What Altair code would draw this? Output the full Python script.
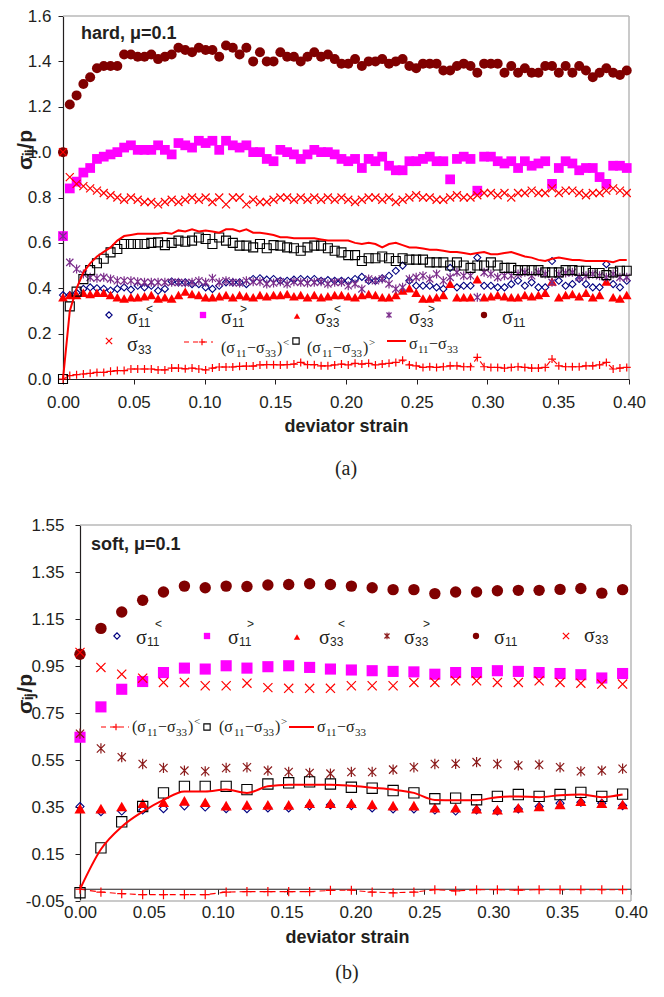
import altair as alt
import pandas as pd

# ---------------- panel (a): hard, mu = 0.1 ----------------
A_STRAIN = [0.0, 0.0048, 0.0096, 0.0144, 0.0192, 0.024, 0.0288, 0.0336, 0.0384, 0.0432,
            0.048, 0.0528, 0.0576, 0.0624, 0.0672, 0.072, 0.0768, 0.0816, 0.0864, 0.0912,
            0.096, 0.1008, 0.1056, 0.1104, 0.1152, 0.12, 0.1248, 0.1296, 0.1344, 0.1392,
            0.144, 0.1488, 0.1536, 0.1584, 0.1632, 0.168, 0.1728, 0.1776, 0.1824, 0.1872,
            0.192, 0.1968, 0.2016, 0.2064, 0.2112, 0.216, 0.2208, 0.2256, 0.2304, 0.2352,
            0.24, 0.2448, 0.2496, 0.2544, 0.2592, 0.264, 0.2688, 0.2736, 0.2784, 0.2832,
            0.288, 0.2928, 0.2976, 0.3024, 0.3072, 0.312, 0.3168, 0.3216, 0.3264, 0.3312,
            0.336, 0.3408, 0.3456, 0.3504, 0.3552, 0.36, 0.3648, 0.3696, 0.3744, 0.3792,
            0.384, 0.3888, 0.3936, 0.3984]

A_S11_LT = [0.37, 0.37, 0.38, 0.397, 0.404, 0.40, 0.397, 0.39, 0.397, 0.404, 0.394, 0.411,
            0.404, 0.411, 0.389, 0.397, 0.43, 0.426, 0.426, 0.418, 0.418, 0.404, 0.397, 0.411,
            0.426, 0.426, 0.426, 0.418, 0.441, 0.444, 0.438, 0.441, 0.433, 0.433, 0.438, 0.441,
            0.438, 0.441, 0.433, 0.436, 0.433,
            0.433, 0.433, 0.441, 0.45, 0.433, 0.433, 0.444, 0.455, 0.477, 0.50, 0.433, 0.411,
            0.411, 0.411, 0.404, 0.397, 0.49, 0.404, 0.411, 0.411, 0.535, 0.411, 0.411, 0.404,
            0.404, 0.418, 0.433, 0.411, 0.426, 0.404, 0.404, 0.52, 0.433, 0.411, 0.418, 0.441,
            0.418, 0.404, 0.404, 0.506, 0.418, 0.404, 0.433]

A_S11_GT = [0.63, 0.84, 0.87, 0.91, 0.93, 0.97, 0.98, 0.99, 1.00, 1.02, 1.03, 1.01, 1.01,
            1.01, 1.03, 1.01, 0.99, 1.04, 1.03, 1.02, 1.05, 1.04, 1.05, 1.01, 1.05, 1.03,
            1.02, 1.03, 1.00, 1.00, 0.97, 0.96, 1.01, 1.00, 0.99, 0.97, 0.99, 1.01,
            1.00, 1.00, 0.99, 0.97, 0.96, 0.97, 0.93, 0.97, 0.96, 0.98, 0.94, 0.92, 0.92,
            0.96, 0.96, 0.97, 0.98, 0.96, 0.96, 0.88, 0.97, 0.98, 0.97, 0.83, 0.98, 0.98,
            0.96, 0.95, 0.96, 0.93, 0.96, 0.94, 0.95, 0.96, 0.86, 0.93, 0.96, 0.95, 0.92,
            0.93, 0.93, 0.89, 0.86, 0.94, 0.94, 0.93]

A_S33_LT = [0.36, 0.37, 0.37, 0.38, 0.375, 0.38, 0.38, 0.37, 0.36, 0.355, 0.36, 0.36, 0.365,
            0.37, 0.355, 0.36, 0.355, 0.37, 0.385, 0.375, 0.37, 0.36, 0.36, 0.365, 0.37, 0.36,
            0.37, 0.365, 0.36, 0.37, 0.365, 0.37, 0.37, 0.375, 0.365, 0.37, 0.36, 0.37, 0.36,
            0.365, 0.37,
            0.37, 0.365, 0.36, 0.37, 0.375, 0.37, 0.36, 0.36, 0.37, 0.39, 0.40, 0.38, 0.355,
            0.355, 0.36, 0.37, 0.42, 0.36, 0.36, 0.36, 0.44, 0.36, 0.365, 0.37, 0.365, 0.36,
            0.36, 0.37, 0.365, 0.37, 0.38, 0.43, 0.36, 0.37, 0.375, 0.365, 0.38, 0.36, 0.37,
            0.43, 0.36, 0.355, 0.37]

A_S33_GT = [0.63, 0.514, 0.485, 0.463, 0.448, 0.444, 0.448, 0.441, 0.433, 0.433, 0.433, 0.429,
            0.426, 0.426, 0.426, 0.426, 0.426, 0.426, 0.423, 0.426, 0.433, 0.426, 0.444, 0.426,
            0.433, 0.426, 0.423, 0.433, 0.429, 0.429, 0.419, 0.423, 0.429, 0.419, 0.429, 0.426,
            0.423, 0.426, 0.429, 0.419, 0.426,
            0.426, 0.411, 0.419, 0.397, 0.441, 0.433, 0.441, 0.419, 0.397, 0.404, 0.441, 0.448,
            0.455, 0.441, 0.463, 0.433, 0.448, 0.47, 0.455, 0.455, 0.36, 0.47, 0.463, 0.448,
            0.455, 0.455, 0.463, 0.47, 0.455, 0.47, 0.463, 0.426, 0.463, 0.467, 0.47, 0.448,
            0.455, 0.463, 0.455, 0.448, 0.463, 0.448, 0.448]

A_S11 = [1.00, 1.21, 1.25, 1.30, 1.33, 1.37, 1.38, 1.38, 1.38, 1.43, 1.43, 1.42, 1.42, 1.43,
         1.41, 1.42, 1.43, 1.46, 1.45, 1.44, 1.46, 1.45, 1.45, 1.42, 1.47, 1.46, 1.43, 1.46,
         1.40, 1.44, 1.40, 1.40, 1.44, 1.42, 1.42, 1.40, 1.42, 1.44,
         1.42, 1.43, 1.41, 1.39, 1.39, 1.41, 1.38, 1.40, 1.40, 1.41, 1.39, 1.40, 1.41, 1.38,
         1.37, 1.39, 1.39, 1.39, 1.36, 1.36, 1.38, 1.39, 1.38, 1.35, 1.39, 1.39, 1.39, 1.35,
         1.38, 1.35, 1.37, 1.35, 1.35, 1.38, 1.38, 1.35, 1.38, 1.35, 1.38, 1.36, 1.33, 1.35,
         1.37, 1.35, 1.34, 1.36]

A_S33 = [1.00, 0.89, 0.86, 0.85, 0.84, 0.83, 0.82, 0.81, 0.80, 0.79, 0.80, 0.79, 0.78, 0.78,
         0.77, 0.78, 0.79, 0.78, 0.79, 0.80, 0.79, 0.80, 0.78, 0.80, 0.77, 0.80, 0.80, 0.77,
         0.79, 0.78, 0.78, 0.79, 0.80, 0.80, 0.79, 0.80, 0.79, 0.80,
         0.79, 0.80, 0.79, 0.80, 0.79, 0.78, 0.79, 0.80, 0.80, 0.79, 0.80, 0.78, 0.79, 0.80,
         0.81, 0.80, 0.80, 0.79, 0.79, 0.80, 0.81, 0.80, 0.80, 0.81, 0.82, 0.82, 0.81, 0.82,
         0.80, 0.82, 0.82, 0.83, 0.82, 0.82, 0.84, 0.82, 0.83, 0.83, 0.82, 0.81, 0.82, 0.82,
         0.83, 0.84, 0.83, 0.82]

A_D_LT = [0.0, 0.015, 0.019, 0.022, 0.025, 0.029, 0.029, 0.034, 0.037, 0.037,
          0.044, 0.044, 0.044, 0.044, 0.040, 0.040, 0.048, 0.048, 0.045, 0.048,
          0.044, 0.040, 0.048, 0.053, 0.053, 0.053, 0.056, 0.057, 0.057, 0.062,
          0.063, 0.063, 0.062, 0.063, 0.066, 0.073, 0.063, 0.063,
          0.058, 0.058, 0.062, 0.066, 0.062, 0.069, 0.066, 0.069, 0.062, 0.066, 0.069, 0.073,
          0.083, 0.062, 0.058, 0.051, 0.054, 0.051, 0.054, 0.058, 0.058, 0.054,
          0.054, 0.095, 0.054, 0.051, 0.051, 0.048, 0.051, 0.054, 0.051, 0.048,
          0.048, 0.051, 0.088, 0.058, 0.054, 0.054, 0.054, 0.058, 0.058, 0.062,
          0.073, 0.044, 0.048, 0.051]

A_D_GT = [0.00, 0.32, 0.385, 0.44, 0.48, 0.51, 0.53, 0.558, 0.573, 0.595, 0.595, 0.595, 0.595,
          0.60, 0.602, 0.59, 0.60, 0.61, 0.605, 0.61, 0.624, 0.617, 0.595, 0.624, 0.61, 0.60,
          0.588, 0.588, 0.58, 0.595, 0.576, 0.59, 0.588, 0.58, 0.576, 0.565, 0.58, 0.588,
          0.588, 0.576, 0.565,
          0.558, 0.546, 0.546, 0.52, 0.532, 0.532, 0.54, 0.532, 0.52, 0.532, 0.526, 0.526,
          0.526, 0.514, 0.514, 0.514, 0.50, 0.514, 0.50, 0.49, 0.50, 0.50, 0.514, 0.50, 0.49,
          0.49, 0.48, 0.48, 0.48, 0.48, 0.47, 0.47, 0.47, 0.48, 0.48, 0.477, 0.477, 0.467,
          0.467, 0.458, 0.47, 0.477, 0.477]

A_D = [0.0, 0.30, 0.40, 0.47, 0.51, 0.54, 0.56, 0.58, 0.61, 0.63, 0.635, 0.64, 0.64, 0.64,
       0.64, 0.645, 0.64, 0.655, 0.65, 0.66, 0.65, 0.655, 0.65, 0.645, 0.66, 0.66, 0.65, 0.66,
       0.645, 0.645, 0.64, 0.635, 0.625, 0.625, 0.62, 0.62, 0.62, 0.62, 0.615, 0.61, 0.61,
       0.61, 0.61, 0.60, 0.595, 0.60, 0.595, 0.58, 0.595, 0.60, 0.59, 0.58, 0.58, 0.575,
       0.57, 0.57, 0.565, 0.56, 0.56, 0.555, 0.55, 0.555, 0.56, 0.55, 0.55, 0.555, 0.56,
       0.55, 0.54, 0.535, 0.525, 0.52, 0.53, 0.535, 0.53, 0.525, 0.525, 0.52, 0.52, 0.52,
       0.52, 0.515, 0.525, 0.525]

A_XTICKS = [0.0, 0.05, 0.1, 0.15, 0.2, 0.25, 0.3, 0.35, 0.4]
A_YTICKS = [0.0, 0.2, 0.4, 0.6, 0.8, 1.0, 1.2, 1.4, 1.6]

# ---------------- panel (b): soft, mu = 0.1 ----------------
B_STRAIN = [0.0, 0.0152, 0.0303, 0.0455, 0.0606, 0.0758, 0.0909, 0.1061, 0.1212, 0.1364,
            0.1515, 0.1667, 0.1818, 0.1970, 0.2121, 0.2273, 0.2424, 0.2576, 0.2727, 0.2879,
            0.3030, 0.3182, 0.3333, 0.3485, 0.3636, 0.3788, 0.3939]
B_S11_LT = [0.352, 0.33, 0.333, 0.337, 0.343, 0.355, 0.35, 0.343, 0.343, 0.346, 0.346, 0.355,
            0.359, 0.356, 0.346, 0.342, 0.342, 0.337, 0.333, 0.337, 0.333, 0.342, 0.352, 0.366,
            0.37, 0.366, 0.356]
B_S11_GT = [0.647, 0.776, 0.851, 0.884, 0.922, 0.941, 0.937, 0.951, 0.941, 0.947, 0.951, 0.944,
            0.937, 0.933, 0.93, 0.927, 0.925, 0.915, 0.922, 0.922, 0.93, 0.927, 0.922, 0.918,
            0.913, 0.899, 0.918]
B_S33_LT = [0.343, 0.343, 0.352, 0.366, 0.37, 0.376, 0.37, 0.356, 0.359, 0.359, 0.359, 0.366,
            0.366, 0.366, 0.361, 0.356, 0.356, 0.347, 0.347, 0.343, 0.339, 0.347, 0.352, 0.361,
            0.375, 0.366, 0.361]
B_S33_GT = [0.662, 0.599, 0.562, 0.533, 0.516, 0.505, 0.502, 0.516, 0.519, 0.505, 0.499, 0.495,
            0.492, 0.499, 0.499, 0.509, 0.519, 0.533, 0.534, 0.541, 0.533, 0.527, 0.53, 0.519,
            0.502, 0.505, 0.513]
B_S11 = [1.00, 1.11, 1.18, 1.23, 1.265, 1.29, 1.283, 1.29, 1.288, 1.295, 1.297, 1.30, 1.297,
         1.29, 1.283, 1.275, 1.275, 1.258, 1.265, 1.265, 1.27, 1.272, 1.272, 1.276, 1.28, 1.26,
         1.275]
B_S33 = [1.008, 0.944, 0.915, 0.898, 0.88, 0.88, 0.866, 0.866, 0.877, 0.858, 0.855, 0.855,
         0.855, 0.866, 0.866, 0.866, 0.88, 0.88, 0.887, 0.887, 0.88, 0.88, 0.887, 0.88, 0.877,
         0.873, 0.873]
B_D_LT = [0.0, -0.012, -0.019, -0.023, -0.023, -0.023, -0.023, -0.012, -0.01, -0.01, -0.01,
          -0.01, -0.005, -0.004, -0.012, -0.015, -0.012, -0.002, -0.007, -0.002, -0.002,
          -0.004, -0.002, -0.002, -0.002, -0.002, -0.002]
B_D_GT = [-0.015, 0.176, 0.287, 0.352, 0.41, 0.438, 0.438, 0.438, 0.424, 0.448, 0.453, 0.457,
          0.448, 0.434, 0.43, 0.42, 0.41, 0.385, 0.388, 0.381, 0.395, 0.403, 0.395, 0.403,
          0.412, 0.395, 0.405]
B_D = [0.0, 0.17, 0.266, 0.33, 0.38, 0.416, 0.416, 0.424, 0.41, 0.438, 0.445, 0.445, 0.445,
       0.44, 0.432, 0.424, 0.41, 0.38, 0.379, 0.379, 0.392, 0.395, 0.392, 0.40, 0.403, 0.392,
       0.403]

B_XTICKS = [0.0, 0.05, 0.1, 0.15, 0.2, 0.25, 0.3, 0.35, 0.4]
B_YTICKS = [-0.05, 0.15, 0.35, 0.55, 0.75, 0.95, 1.15, 1.35, 1.55]

for arr in (A_S11_LT, A_S11_GT, A_S33_LT, A_S33_GT, A_S11, A_S33, A_D_LT, A_D_GT, A_D):
    assert len(arr) == len(A_STRAIN), len(arr)
for arr in (B_S11_LT, B_S11_GT, B_S33_LT, B_S33_GT, B_S11, B_S33, B_D_LT, B_D_GT, B_D):
    assert len(arr) == len(B_STRAIN), len(arr)

# ---------------- styling ----------------
SANS = "Liberation Sans"
SERIF = "Liberation Serif"
INK = "#231f20"
FRAME = "#b8b8b8"
ASTER = "M0,-1L0,1M-0.8,-0.8L0.8,0.8M-0.8,0.8L0.8,-0.8"
XMARK = "M-1,-1L1,1M-1,1L1,-1"
PLUS = "M-1,0L1,0M0,-1L0,1"

# page geometry of the two plot areas (left, top, width, height)
A_GEOM = (64, 12, 566, 363)
B_GEOM = (81, 523, 551, 376)
COMMON_LEFT = 64  # both views start here; panel (b)'s axis is moved inwards


def styles(asterisk_color, big):
    k = 1.0 if not big else 1.3
    return {
        "s11lt": dict(shape="diamond", filled=False, color="#000080", size=50 * k, strokeWidth=1.1),
        "s11gt": dict(shape="square", filled=True, color="#FF00FF", size=95 * k),
        "s33lt": dict(shape="triangle-up", filled=True, color="#FF0000", size=95 * k),
        "s33gt": dict(shape=ASTER, filled=False, color=asterisk_color, size=81 * k, strokeWidth=1.2),
        "s11": dict(shape="circle", filled=True, color="#800000", size=100 * k),
        "s33": dict(shape=XMARK, filled=False, color="#FF0000", size=64 * k, strokeWidth=1.2),
        "dlt": dict(shape=PLUS, filled=False, color="#FF0000", size=64 * k, strokeWidth=1.2),
        "dgt": dict(shape="square", filled=False, color="#000000", size=81 * k, strokeWidth=1.1),
    }


def lab_simple(sub, sup, sub_dy, sup_dy):
    p = [("σ", 0, 0, 20, SERIF), (sub, 11, sub_dy, 12, SANS)]
    if sup:
        p.append((sup, 19, sup_dy, 12, SANS))
    return p


def lab_paren(sup):
    return [("(σ", 0, 0, 16, SERIF), ("11", 15, 4, 11, SERIF), ("−σ", 26, 0, 16, SERIF),
            ("33", 44, 4, 11, SERIF), (")", 56, 0, 16, SERIF), (sup, 62, -7, 11, SERIF)]


def lab_diff():
    return [("σ", 0, 0, 16, SERIF), ("11", 9, 4, 11, SERIF), ("−σ", 20, 0, 16, SERIF),
            ("33", 38, 4, 11, SERIF)]


# legend layout in page pixels: key, symbol x, symbol y, label x, label baseline, pieces, line span
A_LEGEND = [
    ("s11lt", 110, 311, 128, 320, lab_simple("11", "<", 3, -11), None),
    ("s11gt", 204, 311, 222, 320, lab_simple("11", ">", 3, -11), None),
    ("s33lt", 298, 312, 316, 320, lab_simple("33", "<", 3, -11), None),
    ("s33gt", 390, 311, 410, 320, lab_simple("33", ">", 3, -11), None),
    ("s11", 485, 311, 503, 320, lab_simple("11", None, 3, 0), None),
    ("s33", 110, 337, 128, 347, lab_simple("33", None, 3, 0), None),
    ("dlt", 203, 338, 222, 349, lab_paren("<"), (185, 214)),
    ("dgt", 297, 337, 308, 349, lab_paren(">"), None),
    ("d", None, 337, 410, 345, lab_diff(), (388, 407)),
]
B_LEGEND = [
    ("s11lt", 118, 634, 137, 642, lab_simple("11", "<", 2, -16), None),
    ("s11gt", 208, 634, 229, 642, lab_simple("11", ">", 2, -16), None),
    ("s33lt", 298, 635, 320, 642, lab_simple("33", "<", 2, -16), None),
    ("s33gt", 388, 634, 405, 642, lab_simple("33", ">", 2, -16), None),
    ("s11", 477, 634, 495, 642, lab_simple("11", None, 2, 0), None),
    ("s33", 567, 634, 585, 640, lab_simple("33", None, 2, 0), None),
    ("dlt", 117, 725, 133, 730, lab_paren("<"), (102, 130)),
    ("dgt", 208, 725, 220, 730, lab_paren(">"), None),
    ("d", None, 725, 318, 730, lab_diff(), (290, 315)),
]

caption_offset = {"(a)": 24, "(b)": 17}


def build_panel(strain, series, ydom, geom, xaxis, yaxis, style, legend, tag, tag_pos,
                ytitle_pos, line_interp, caption, frame_bottom, zero_line):
    left, top, w, h = geom
    # extend the x range to the left so that the view starts at COMMON_LEFT
    xmin = -(left - COMMON_LEFT) / w * 0.4
    view_w = w + (left - COMMON_LEFT)
    xsc = alt.Scale(domain=[xmin, 0.4], nice=False, zero=False)
    ysc = alt.Scale(domain=ydom, nice=False, zero=False)

    def to_data(px, py):
        return ((px - left) / w * 0.4, ydom[0] + (top + h - py) / h * (ydom[1] - ydom[0]))

    def enc():
        return dict(x=alt.X("x:Q", scale=xsc, axis=xaxis), y=alt.Y("y:Q", scale=ysc, axis=yaxis))

    layers = []
    # frame (grey, top + right [+ bottom])
    fr = [dict(x=0.0, x2=0.4, y=ydom[1], y2=ydom[1]), dict(x=0.4, x2=0.4, y=ydom[0], y2=ydom[1])]
    if frame_bottom:
        fr.append(dict(x=0.0, x2=0.4, y=ydom[0], y2=ydom[0]))
    layers.append(alt.Chart(pd.DataFrame(fr)).mark_rule(color=FRAME, strokeWidth=1.5).encode(
        x2="x2:Q", y2="y2:Q", **enc()))
    if zero_line:
        zl = pd.DataFrame([dict(x=0.0, x2=0.4, y=0.0, y2=0.0)])
        layers.append(alt.Chart(zl).mark_rule(color=INK, strokeWidth=1.2).encode(
            x2="x2:Q", y2="y2:Q", **enc()))

    order = ["s11lt", "s11gt", "s33lt", "s33gt", "s11", "s33", "dlt", "dgt"]
    for key in order:
        df = pd.DataFrame({"x": strain, "y": series[key]})
        if key == "dlt":
            layers.append(alt.Chart(df).mark_line(color="#FF0000", strokeWidth=1.1,
                                                  strokeDash=[6, 4]).encode(**enc()))
        layers.append(alt.Chart(df).mark_point(opacity=1, **style[key]).encode(**enc()))
    dfl = pd.DataFrame({"x": strain, "y": series["d"]})
    layers.append(alt.Chart(dfl).mark_line(color="#FF0000", strokeWidth=2,
                                           interpolate=line_interp).encode(**enc()))

    # legend
    pieces = []
    for key, sx, sy, lx, ly, parts, span in legend:
        if span is not None:
            x0, y0 = to_data(span[0], sy)
            x1, _ = to_data(span[1], sy)
            seg = pd.DataFrame({"x": [x0, x1], "y": [y0, y0]})
            if key == "dlt":
                layers.append(alt.Chart(seg).mark_line(color="#FF0000", strokeWidth=1.1,
                                                       strokeDash=[5, 4]).encode(**enc()))
            else:
                layers.append(alt.Chart(seg).mark_line(color="#FF0000", strokeWidth=2).encode(**enc()))
        if sx is not None:
            st = dict(style[key])
            st["size"] = 40
            xx, yy = to_data(sx, sy)
            layers.append(alt.Chart(pd.DataFrame({"x": [xx], "y": [yy]}))
                          .mark_point(opacity=1, **st).encode(**enc()))
        for text, dx, dy, size, font in parts:
            xx, yy = to_data(lx + dx, ly + dy)
            pieces.append(dict(x=xx, y=yy, t=text, size=size, font=font))
    tx, ty = to_data(*tag_pos)
    pieces.append(dict(x=tx, y=ty, t=tag, size=18, font=SANS + "|bold"))
    pdf = pd.DataFrame(pieces)
    for (size, font), grp in pdf.groupby(["size", "font"]):
        fname = font.split("|")[0]
        weight = "bold" if font.endswith("|bold") else "normal"
        layers.append(alt.Chart(grp[["x", "y", "t"]]).mark_text(
            align="left", baseline="alphabetic", font=fname, fontSize=int(size),
            fontWeight=weight, color=INK).encode(text="t:N", **enc()))

    # rotated y title
    yx, yy = to_data(*ytitle_pos)
    layers.append(alt.Chart(pd.DataFrame({"x": [yx], "y": [yy], "t": ["σᵢⱼ/p"]})).mark_text(
        angle=270, align="center", baseline="alphabetic", font=SANS, fontSize=21,
        fontWeight="bold", color=INK).encode(text="t:N", **enc()))

    return alt.layer(*layers).properties(
        width=view_w, height=h,
        title=alt.TitleParams(caption, orient="bottom", anchor="middle", font=SERIF,
                              fontSize=20, fontWeight="normal", color=INK,
                              offset=caption_offset[caption]))


common_axis = dict(labelFont=SANS, labelFontSize=17, labelColor=INK, tickSize=5,
                   tickColor=INK, domainColor=INK, domainWidth=1.2, grid=False,
                   titleFont=SANS, titleColor=INK, titleFontWeight="bold")

A_XAXIS = alt.Axis(values=A_XTICKS, format=".2f", title="deviator strain", titleFontSize=18,
                   labelPadding=10, titlePadding=7, labelFlush=False, **common_axis)
A_YAXIS = alt.Axis(values=A_YTICKS, format=".1f", title=None, labelPadding=7, **common_axis)
B_XAXIS = alt.Axis(values=B_XTICKS, format=".2f", title="deviator strain", titleFontSize=18,
                   labelPadding=10, titlePadding=8, offset=-11.75, labelFlush=False,
                   domain=False, **common_axis)
B_YAXIS = alt.Axis(values=B_YTICKS, format=".2f",
                   labelExpr="replace(format(datum.value, '.2f'), '−', '-')",
                   title=None, labelPadding=11, offset=-(B_GEOM[0] - COMMON_LEFT), **common_axis)

top = build_panel(
    A_STRAIN,
    {"s11lt": A_S11_LT, "s11gt": A_S11_GT, "s33lt": A_S33_LT, "s33gt": A_S33_GT,
     "s11": A_S11, "s33": A_S33, "dlt": A_D_LT, "dgt": A_D_GT, "d": A_D},
    [0, 1.6], A_GEOM, A_XAXIS, A_YAXIS, styles("#7B2D8B", False), A_LEGEND,
    "hard, μ=0.1", (82, 35), (33, 146), "linear", "(a)", False, False)

bottom = build_panel(
    B_STRAIN,
    {"s11lt": B_S11_LT, "s11gt": B_S11_GT, "s33lt": B_S33_LT, "s33gt": B_S33_GT,
     "s11": B_S11, "s33": B_S33, "dlt": B_D_LT, "dgt": B_D_GT, "d": B_D},
    [-0.05, 1.55], B_GEOM, B_XAXIS, B_YAXIS, styles("#8B1A1A", True), B_LEGEND,
    "soft, μ=0.1", (92, 548), (33, 692), "monotone", "(b)", True, True)

chart = alt.concat(top, bottom, columns=1, spacing=35).configure_view(
    stroke="transparent"
).properties(padding={"left": 6, "top": -2, "right": 5, "bottom": 0})

chart.save("out.html", embed_options={"renderer": "svg", "actions": False})
